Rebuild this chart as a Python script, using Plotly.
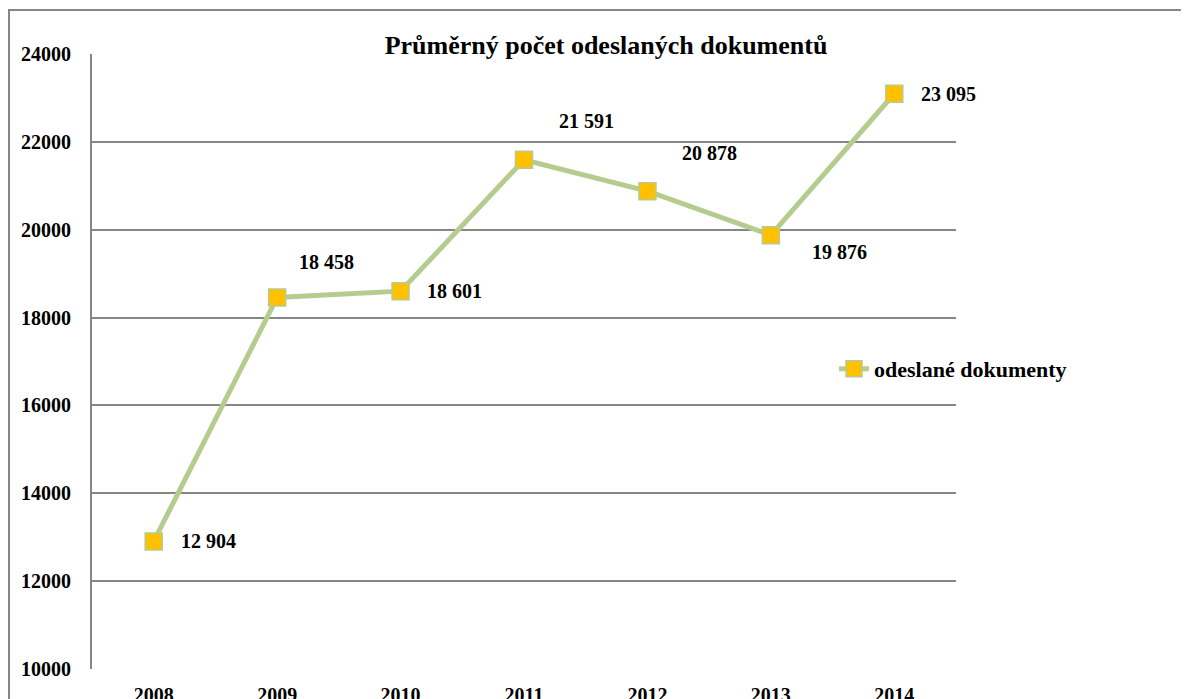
import plotly.graph_objects as go

years = ["2008", "2009", "2010", "2011", "2012", "2013", "2014"]
documents = [12904, 18458, 18601, 21591, 20878, 19876, 23095]
series_name = "odeslané dokumenty"
chart_title = "Průměrný počet odeslaných dokumentů"
y_ticks = [10000, 12000, 14000, 16000, 18000, 20000, 22000, 24000]

# label placement (pixel shifts from each point)
label_dx = [25, 20, 24, 33, 33, 39, 25]
label_dy = [0, 35, 0, 39, 38, -17, 0]

FONT = "Liberation Serif"
LINE = "#B5CC8F"
FILL = "#FFC000"

fig = go.Figure()
fig.add_trace(go.Scatter(
    x=years, y=documents, name=series_name, mode="lines+markers",
    line=dict(color=LINE, width=5),
    marker=dict(symbol="square", size=17, color=FILL, line=dict(color=LINE, width=1.5)),
))

annotations = []
for i, (y, dx, dy) in enumerate(zip(documents, label_dx, label_dy)):
    annotations.append(dict(
        x=i, y=y, xref="x", yref="y",
        text="<b>" + f"{y:,}".replace(",", " ") + "</b>", showarrow=False,
        xanchor="left", yanchor="middle", xshift=dx, yshift=dy,
        font=dict(family=FONT, size=20, color="black"),
    ))

fig.update_layout(
    width=1189, height=699,
    margin=dict(l=84, r=241, t=46, b=38, autoexpand=False),
    paper_bgcolor="white", plot_bgcolor="white",
    font=dict(family=FONT, color="black", size=20, weight="bold"),
    title=dict(text=chart_title, xref="container", yref="container",
               x=598/1189, y=1 - 37/699, xanchor="center", yanchor="middle",
               font=dict(family=FONT, size=26, color="black", weight="bold")),
    showlegend=True,
    legend=dict(x=(834-92)/864, y=(669-369)/615, xanchor="left", yanchor="middle",
                bgcolor="rgba(0,0,0,0)",
                font=dict(family=FONT, size=22, color="black", weight="bold")),
    xaxis=dict(type="category", showgrid=False, showline=False, zeroline=False,
               ticks="", ticklabelstandoff=12, range=[-0.5, 6.5], automargin=False),
    yaxis=dict(range=[10000, 24000], tickvals=y_ticks, showgrid=True,
               gridcolor="#868686", gridwidth=2, showline=True, linecolor="#868686",
               linewidth=2, zeroline=False, ticks="", ticklabelstandoff=15,
               tickformat="d", automargin=False),
    annotations=annotations,
    shapes=[dict(type="rect", xref="paper", yref="paper",
                 x0=-83/864, x1=1250/864, y0=-0.2, y1=1 + 44/615,
                 line=dict(color="#868686", width=2), layer="below")],
)

fig.write_html("out.html")
